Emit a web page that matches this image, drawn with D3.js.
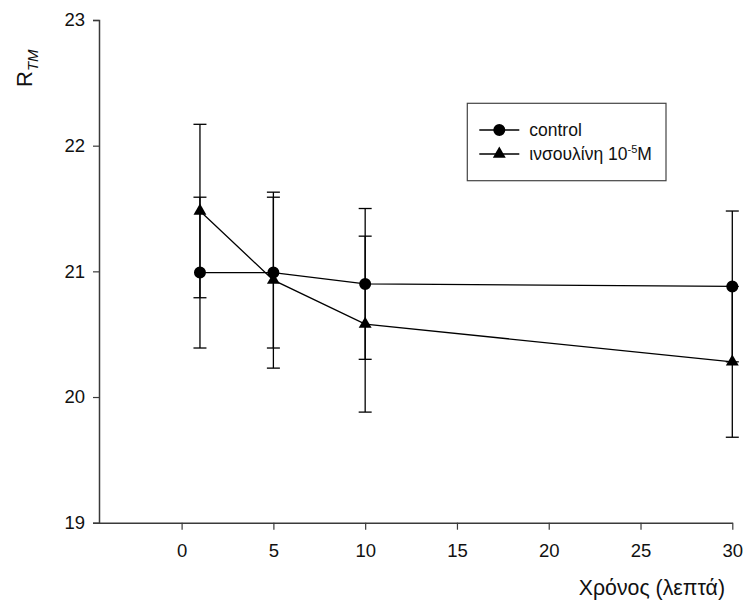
<!DOCTYPE html>
<html>
<head>
<meta charset="utf-8">
<script src="https://cdn.jsdelivr.net/npm/d3@7"></script>
<style>
  html, body { margin: 0; padding: 0; background: #fff; }
  svg { display: block; font-family: Arial, "Liberation Sans", sans-serif; }
</style>
</head>
<body>
<svg id="chart" width="745" height="603"></svg>
<script>
// Time points (minutes) and mean R_TM with error (±) for each group
const times = [1, 5, 10, 30];
const controlValues = [20.99, 20.99, 20.90, 20.88];
const controlErrors = [0.60, 0.60, 0.60, 0.60];
const insulinValues = [21.48, 20.93, 20.58, 20.28];
const insulinErrors = [0.69, 0.70, 0.70, 0.60];
const xTicks = [0, 5, 10, 15, 20, 25, 30];
const yTicks = [19, 20, 21, 22, 23];
const legendLabels = ["control", "ινσουλίνη 10"];

const svg = d3.select("#chart");

const x = d3.scaleLinear().domain([-4.5, 30]).range([99, 732.3]);
const y = d3.scaleLinear().domain([19, 23]).range([522.7, 20]);

const axisColor = "#3a3a3a";

// Y axis
const yAxis = svg.append("g")
  .attr("transform", `translate(${x(-4.5)},0)`)
  .call(d3.axisLeft(y).tickValues(yTicks).tickSize(6).tickPadding(8).tickFormat(d3.format("d")));
yAxis.select(".domain").attr("stroke", axisColor).attr("stroke-width", 1.5);
yAxis.selectAll(".tick line").attr("stroke", axisColor).attr("stroke-width", 1.2);
yAxis.selectAll(".tick text").attr("font-size", 18.5).attr("fill", "#111")
  .attr("font-family", "Arial, 'Liberation Sans', sans-serif");

// X axis
const xAxis = svg.append("g")
  .attr("transform", `translate(0,${y(19)})`)
  .call(d3.axisBottom(x).tickValues(xTicks).tickSize(7).tickSizeOuter(0).tickPadding(14).tickFormat(d3.format("d")));
xAxis.select(".domain").attr("stroke", axisColor).attr("stroke-width", 1.5);
xAxis.selectAll(".tick line").attr("stroke", axisColor).attr("stroke-width", 1.2);
xAxis.selectAll(".tick text").attr("font-size", 18.5).attr("fill", "#111")
  .attr("font-family", "Arial, 'Liberation Sans', sans-serif");

// Axis titles
svg.append("text")
  .attr("x", 725).attr("y", 595)
  .attr("text-anchor", "end")
  .attr("font-size", 21.3).attr("fill", "#111")
  .text("Χρόνος (λεπτά)");

const yTitle = svg.append("text")
  .attr("transform", "translate(32,87) rotate(-90)")
  .attr("font-size", 22).attr("fill", "#111");
yTitle.append("tspan").text("R");
yTitle.append("tspan").attr("dy", 6).attr("font-size", 15).attr("font-style", "italic").text("TM");

// Series
const series = [
  { values: controlValues, errors: controlErrors, symbol: d3.symbolCircle, size: 113 },
  { values: insulinValues, errors: insulinErrors, symbol: d3.symbolTriangle, size: 72 }
];

const capHalf = 6.5;
const plot = svg.append("g");

// Error bars
series.forEach(s => {
  const g = plot.append("g").attr("stroke", "#000").attr("stroke-width", 1.3).attr("fill", "none");
  times.forEach((t, i) => {
    const cx = x(t), lo = y(s.values[i] - s.errors[i]), hi = y(s.values[i] + s.errors[i]);
    g.append("line").attr("x1", cx).attr("x2", cx).attr("y1", lo).attr("y2", hi);
    g.append("line").attr("x1", cx - capHalf).attr("x2", cx + capHalf).attr("y1", lo).attr("y2", lo);
    g.append("line").attr("x1", cx - capHalf).attr("x2", cx + capHalf).attr("y1", hi).attr("y2", hi);
  });
});

// Connecting lines
const line = d3.line().x((d, i) => x(times[i])).y(d => y(d));
series.forEach(s => {
  plot.append("path").datum(s.values)
    .attr("d", line)
    .attr("fill", "none").attr("stroke", "#000").attr("stroke-width", 1.3);
});

// Markers
series.forEach(s => {
  plot.append("g").selectAll("path").data(s.values).join("path")
    .attr("transform", (d, i) => `translate(${x(times[i])},${y(d)})`)
    .attr("d", d3.symbol().type(s.symbol).size(s.size))
    .attr("fill", "#000");
});

// Legend
const legend = svg.append("g");
legend.append("rect")
  .attr("x", 467.3).attr("y", 103.3).attr("width", 198.7).attr("height", 77.4)
  .attr("fill", "#fff").attr("stroke", "#444").attr("stroke-width", 1.2);

const legendRows = [130, 154];
series.forEach((s, i) => {
  const ry = legendRows[i];
  legend.append("line").attr("x1", 479.3).attr("x2", 519.3).attr("y1", ry).attr("y2", ry)
    .attr("stroke", "#000").attr("stroke-width", 1.3);
  legend.append("path")
    .attr("transform", `translate(499.3,${ry})`)
    .attr("d", d3.symbol().type(s.symbol).size(s.size))
    .attr("fill", "#000");
  const txt = legend.append("text")
    .attr("x", 529.3).attr("y", ry + 6)
    .attr("font-size", 17.5).attr("fill", "#111")
    .text(legendLabels[i]);
  if (i === 1) {
    txt.append("tspan").attr("dy", -7).attr("font-size", 11).text("-5");
    txt.append("tspan").attr("dy", 7).text("M");
  }
});
</script>
</body>
</html>
